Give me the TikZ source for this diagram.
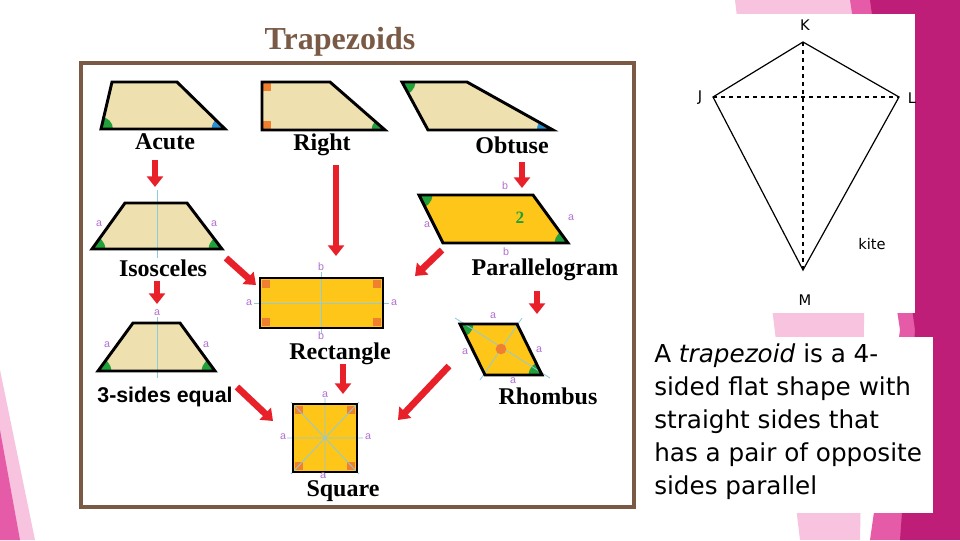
\documentclass[tikz,border=0pt]{standalone}
\usepackage{fontspec}
\setmainfont{Liberation Serif}
\newfontfamily\lsans{Liberation Sans}
\newfontfamily\kitefont{DejaVu Sans}
\usetikzlibrary{arrows.meta}
\definecolor{tan}{HTML}{EFE0B0}
\definecolor{yel}{HTML}{FDC618}
\definecolor{grn}{HTML}{22A03C}
\definecolor{blu}{HTML}{2A8FD0}
\definecolor{org}{HTML}{F08030}
\definecolor{pur}{HTML}{B070D0}
\definecolor{lbl}{HTML}{8CCBE0}
\definecolor{rd}{HTML}{E8202A}
\definecolor{pk1}{HTML}{F7C3DE}
\definecolor{pk2}{HTML}{E65BA8}
\definecolor{pk3}{HTML}{BE1E78}
\definecolor{brn}{HTML}{7A5A45}
\tikzset{
  shp/.style={draw=black,line width=2.2pt,line join=miter},
  lab/.style={font=\fontsize{18}{20}\selectfont\bfseries,inner sep=0pt},
  sm/.style={font=\lsans\fontsize{8}{9}\selectfont,text=pur,inner sep=0pt},
  arr/.style={rd,line width=5pt,-{Triangle[width=12pt,length=8pt]}},
  ax/.style={lbl,line width=0.6pt}
}
\begin{document}
\begin{tikzpicture}[x=0.75pt,y=-0.75pt]
\useasboundingbox (0,0) rectangle (960,540);
\fill[white] (0,0) rectangle (960,540);
% pink decorations
\fill[pk1] (735,0) -- (870,0) -- (860,540) -- (800,540) -- cycle;
\fill[pk2] (850,0) -- (960,0) -- (960,540) -- (870,540) -- (900,330) -- cycle;
\fill[pk3] (870,0) -- (960,0) -- (960,540) -- (900,540) -- (915,330) -- cycle;
\fill[pk1] (0,370) -- (35,540) -- (0,540) -- cycle;
\fill[pk2] (0,430) -- (20,540) -- (0,540) -- cycle;
% kite box
\node[draw=none,fill=white,minimum width=275*0.75pt,minimum height=299*0.75pt,inner sep=0pt,anchor=north west] (kbox) at (640,14) {};
\coordinate (K) at (803,42); \coordinate (J) at (713,97);
\coordinate (L) at (899,97); \coordinate (M) at (803,270);
\draw[line width=0.9pt] (K) -- (L) -- (M) -- (J) -- cycle;
\draw[dashed,line width=0.8pt] (K) -- (M) (J) -- (L);
\begin{scope}[font=\kitefont\fontsize{11}{13}\selectfont]
\node (kK) at (805,25) {K};
\node (kJ) at (700,98) {J};
\node (kL) at (912,98) {L};
\node (kM) at (805,300) {M};
\node (kt) at (872,244) {kite};
\end{scope}
% text box
\node[fill=white,minimum width=293*0.75pt,minimum height=176*0.75pt,inner sep=0pt,anchor=north west] (tbox) at (640,337) {};
\node[anchor=north west,align=left,inner sep=0pt,font=\kitefont\fontsize{18.5}{24.8}\selectfont] (txt) at (654,343)
 {A \textit{trapezoid} is a 4-\\sided flat shape with\\straight sides that\\has a pair of opposite\\sides parallel};
% left panel
\node[font=\fontsize{24}{26}\selectfont\bfseries,text=brn] (title) at (340,42) {Trapezoids};
\draw[brn,line width=2.5pt,fill=white] (81,63) rectangle (634,507);
% Acute
\begin{scope}\clip (112,82)--(177,82)--(225,129)--(101,129)--cycle;
\fill[tan] (90,70) rectangle (240,140);
\fill[grn] (101,129) circle[radius=9pt]; \fill[blu] (225,129) circle[radius=10pt];\end{scope}
\draw[shp] (112,82)--(177,82)--(225,129)--(101,129)--cycle;
\node[lab] (acute) at (165,142) {Acute};
% Right
\begin{scope}\clip (262,82)--(330,82)--(385,130)--(262,130)--cycle;
\fill[tan] (250,70) rectangle (400,140);
\fill[org] (262,82) rectangle (271,91); \fill[org] (262,130) rectangle (271,121);
\fill[grn] (385,130) circle[radius=10pt];\end{scope}
\draw[shp] (262,82)--(330,82)--(385,130)--(262,130)--cycle;
\node[lab] (right) at (322,145) {Right};
% Obtuse
\begin{scope}\clip (402,82)--(467,82)--(553,130)--(428,130)--cycle;
\fill[tan] (390,70) rectangle (570,140);
\fill[grn] (402,82) circle[radius=10pt]; \fill[blu] (553,130) circle[radius=12pt];\end{scope}
\draw[shp] (402,82)--(467,82)--(553,130)--(428,130)--cycle;
\node[lab] (obtuse) at (512,145) {Obtuse};
% Isosceles
\begin{scope}\clip (125,203)--(187,203)--(222,249)--(92,249)--cycle;
\fill[tan] (80,190) rectangle (240,260);
\fill[grn] (92,249) circle[radius=10pt]; \fill[grn] (222,249) circle[radius=10pt];\end{scope}
\draw[ax] (157,190) -- (157,258);
\draw[shp] (125,203)--(187,203)--(222,249)--(92,249)--cycle;
\node[sm] at (99,224) {a}; \node[sm] at (214,224) {a};
\node[lab] (isos) at (163,268) {Isosceles};
% Parallelogram
\begin{scope}\clip (419,195)--(533,195)--(568,243)--(443,243)--cycle;
\fill[yel] (410,185) rectangle (580,250);
\fill[grn] (419,195) circle[radius=10pt]; \fill[grn] (568,243) circle[radius=10pt];\end{scope}
\draw[shp] (419,195)--(533,195)--(568,243)--(443,243)--cycle;
\node[font=\fontsize{13}{14}\selectfont\bfseries,text=grn] at (520,218) {2};
\node[sm] at (505,186) {b}; \node[sm] at (506,252) {b};
\node[sm] at (427,225) {a}; \node[sm] at (571,218) {a};
\node[lab] (para) at (545,270) {Parallelogram};
% Rectangle
\fill[yel] (260,278) rectangle (383,328);
\fill[org] (262,280) rectangle (270,288); \fill[org] (381,280) rectangle (373,288);
\fill[org] (262,326) rectangle (270,318); \fill[org] (381,326) rectangle (373,318);
\draw[ax] (321,272) -- (321,334) (254,303) -- (389,303);
\draw[shp] (260,278) rectangle (383,328);
\node[sm] at (321,267) {b}; \node[sm] at (321,336) {b};
\node[sm] at (249,303) {a}; \node[sm] at (394,303) {a};
\node[lab] (rect) at (340,354) {Rectangle};
% 3-sides equal
\begin{scope}\clip (133,323)--(180,323)--(215,371)--(98,371)--cycle;
\fill[tan] (90,315) rectangle (230,380);
\fill[grn] (98,371) circle[radius=10pt]; \fill[grn] (215,371) circle[radius=10pt];\end{scope}
\draw[ax] (157,317) -- (157,378);
\draw[shp] (133,323)--(180,323)--(215,371)--(98,371)--cycle;
\node[sm] at (157,313) {a}; \node[sm] at (107,345) {a}; \node[sm] at (206,345) {a};
\node[lab,font=\lsans\fontsize{16}{18}\selectfont\bfseries] (three) at (165,397) {3-sides equal};
% Rhombus
\begin{scope}\clip (460,324)--(517,324)--(542,375)--(485,375)--cycle;
\fill[yel] (450,315) rectangle (550,385);
\fill[grn] (460,324) circle[radius=10pt]; \fill[grn] (542,375) circle[radius=10pt];\end{scope}
\draw[ax] (455,318) -- (550,378) (522,318) -- (480,380);
\fill[org] (501,349) circle[radius=4pt];
\draw[shp] (460,324)--(517,324)--(542,375)--(485,375)--cycle;
\node[sm] at (493,316) {a}; \node[sm] at (513,381) {a};
\node[sm] at (465,352) {a}; \node[sm] at (539,350) {a};
\node[lab] (rhomb) at (548,396) {Rhombus};
% Square
\fill[yel] (293,404) rectangle (357,472);
\fill[org] (295,406) rectangle (303,414); \fill[org] (355,406) rectangle (347,414);
\fill[org] (295,470) rectangle (303,462); \fill[org] (355,470) rectangle (347,462);
\draw[ax] (325,398) -- (325,478) (287,438) -- (363,438) (291,402) -- (359,474) (359,402) -- (291,474);
\draw[shp] (293,404) rectangle (357,472);
\node[sm] at (325,395) {a}; \node[sm] at (323,476) {a};
\node[sm] at (283,437) {a}; \node[sm] at (368,437) {a};
\node[lab] (sq) at (343,491) {Square};
% arrows
\coordinate (a1) at (155,160); \coordinate (a1e) at (155,187);
\coordinate (a2) at (336,165); \coordinate (a2e) at (336,256);
\coordinate (a3) at (522,162); \coordinate (a3e) at (522,188);
\coordinate (a4) at (226,258); \coordinate (a4e) at (256,285);
\coordinate (a5) at (442,250); \coordinate (a5e) at (415,276);
\coordinate (a6) at (157,281); \coordinate (a6e) at (157,304);
\coordinate (a7) at (537,291); \coordinate (a7e) at (537,314);
\coordinate (a8) at (343,364); \coordinate (a8e) at (343,394);
\coordinate (a9) at (237,387); \coordinate (a9e) at (273,421);
\coordinate (a10) at (449,366); \coordinate (a10e) at (398,420);
\foreach \s/\e in {a1/a1e,a2/a2e,a3/a3e,a4/a4e,a5/a5e,a6/a6e,a7/a7e,a8/a8e,a9/a9e,a10/a10e}
  \draw[arr] (\s) -- (\e);
\end{tikzpicture}
\end{document}
